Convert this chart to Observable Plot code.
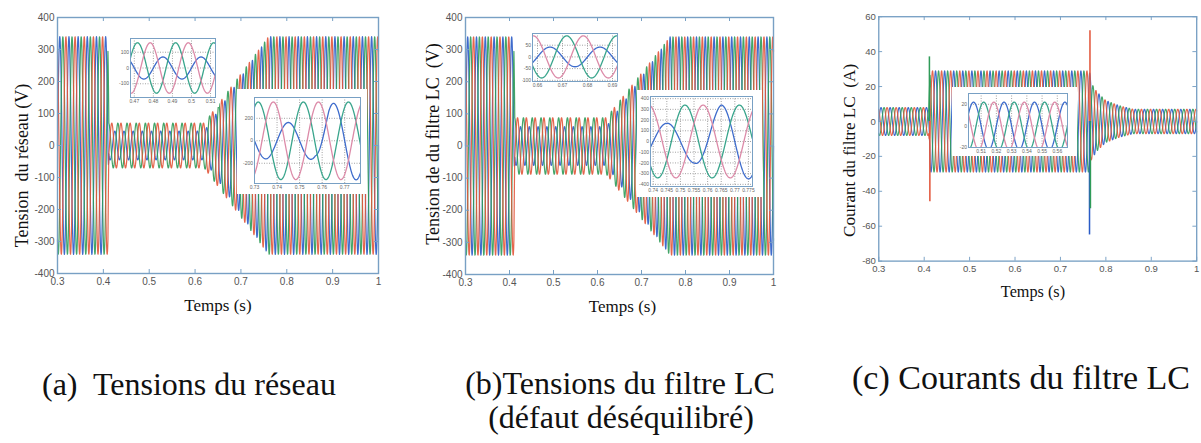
<!DOCTYPE html>
<html><head><meta charset="utf-8">
<script src="https://cdn.jsdelivr.net/npm/d3@7"></script>
<script src="https://cdn.jsdelivr.net/npm/@observablehq/plot@0.6"></script>
<style>
body{margin:0;background:#fff;overflow:hidden}
#root{position:relative;width:1201px;height:443px;overflow:hidden;background:#fff}
.abs{position:absolute;line-height:0}
.cap{position:absolute;font-family:"Liberation Serif","Times New Roman",serif;font-size:32px;color:#111;white-space:pre;line-height:1}
</style></head><body><div id="root"></div><script>
// ---------------- data ----------------
const freqHz = 50;                 // grid frequency (cycles seen in the zoom insets)
const crestTimeBlue = 0.745;       // a crest of phase A (blue) in the zooms
const phaseKeys = ["A", "B", "C"];
const phaseLagDeg = [0, 120, -120];
const mainColors = ["#2a5bc6", "#2f9b58", "#e2553a"];
const insetColors = ["#3e6ccc", "#39a58c", "#dc8aa8"];

const xTicksMain = [0.3, 0.4, 0.5, 0.6, 0.7, 0.8, 0.9, 1];
const yTicksVolt = [-400, -300, -200, -100, 0, 100, 200, 300, 400];
const yTicksAmp = [-80, -60, -40, -20, 0, 20, 40, 60];

// (a) grid voltages: envelope breakpoints (s, V) per phase
const aEnvTime  = [0.30, 0.410, 0.412, 0.620, 0.760, 1.00];
const aEnvBlue  = [340, 340, 45, 45, 340, 340];
const aEnvGreen = [340, 340, 70, 70, 340, 340];
const aEnvRed   = [340, 340, 70, 70, 340, 340];

// (b) LC filter voltages
const bEnvTime  = [0.30, 0.410, 0.412, 0.620, 0.765, 1.00];
const bEnvBlue  = [340, 340, 60, 60, 340, 340];
const bEnvGreen = [340, 340, 88, 88, 340, 340];
const bEnvRed   = [340, 340, 88, 88, 340, 340];

// (c) LC filter currents
const cEnvTime  = [0.30, 0.410, 0.413, 0.764, 0.768, 0.78, 0.80, 0.83, 0.86, 1.00];
const cEnvBlue  = [8, 8, 29, 29, 22, 17, 12, 9, 7, 7];
const cEnvGreen = [8, 8, 29, 29, 22, 17, 12, 9, 7, 7];
const cEnvRed   = [8, 8, 29, 29, 22, 17, 12, 9, 7, 7];
const cSpikeTime  = [0.4115, 0.4125, 0.7640, 0.7650, 0.7660];
const cSpikeFrom  = [0, 0, 0, 0, 0];
const cSpikeTo    = [37, -46, -65, 52, -50];
const cSpikePhase = [1, 2, 0, 2, 1];

// zoom insets
const a1Window = [0.468, 0.5126];
const a1XTicks = [0.47, 0.48, 0.49, 0.5, 0.51];
const a1YDomain = [-187, 187];
const a1YTicks = [-100, 0, 100];
const a1EnvTime = [0.468, 0.5126];
const a1EnvBlue = [70, 70], a1EnvGreen = [160, 160], a1EnvRed = [160, 160];

const a2Window = [0.73, 0.777];
const a2XTicks = [0.73, 0.74, 0.75, 0.76, 0.77];
const a2YDomain = [-380, 385];
const a2YTicks = [-200, 0, 200];
const a2EnvTime = [0.73, 0.757, 0.763, 0.777];
const a2EnvBlue = [160, 165, 330, 350], a2EnvGreen = [345, 345, 345, 345], a2EnvRed = [345, 345, 345, 345];

const b1Window = [0.658, 0.692];
const b1XTicks = [0.66, 0.67, 0.68, 0.69];
const b1YDomain = [-105, 100];
const b1YTicks = [-100, -50, 0, 50];
const b1EnvTime = [0.658, 0.692];
const b1EnvBlue = [42, 42], b1EnvGreen = [90, 90], b1EnvRed = [90, 90];

const b2Window = [0.739, 0.7765];
const b2XTicks = [0.74, 0.745, 0.75, 0.755, 0.76, 0.765, 0.77, 0.775];
const b2YDomain = [-420, 420];
const b2YTicks = [-400, -300, -200, -100, 0, 100, 200, 300, 400];
const b2EnvTime = [0.739, 0.745, 0.755, 0.765, 0.7765];
const b2EnvBlue = [170, 170, 200, 340, 350], b2EnvGreen = [340, 340, 340, 340, 340], b2EnvRed = [340, 340, 340, 340, 340];

const cZWindow = [0.5017, 0.5667];
const cZXTicks = [0.51, 0.52, 0.53, 0.54, 0.55, 0.56];
const cZYDomain = [-20, 30];
const cZYTicks = [-20, 0, 20];
const cZEnvTime = [0.5017, 0.5667];
const cZEnvBlue = [22, 22], cZEnvGreen = [22, 22], cZEnvRed = [22, 22];

// ---------------- helpers ----------------
const axisColor = "#78a0c4";
const tickColor = "#555";
const serif = "Liberation Serif, Times New Roman, serif";
const sans = "Liberation Sans, Arial, sans-serif";
const fmt = d => String(+d.toFixed(4));

function wave(times, envs, t0, t1, step) {
  const out = [];
  const n = Math.round((t1 - t0) / step);
  phaseKeys.forEach((k, i) => {
    const env = d3.scaleLinear(times, envs[i]).clamp(true);
    for (let j = 0; j <= n; j++) {
      const t = t0 + j * step;
      const v = env(t) * Math.cos(2 * Math.PI * freqHz * (t - crestTimeBlue) - phaseLagDeg[i] * Math.PI / 180);
      out.push({t, v, phase: k});
    }
  });
  return out;
}

function mainChart(o) {
  const fw = o.w - o.ml - o.mr, fh = o.h - o.mt - o.mb;
  const marks = [];
  phaseKeys.forEach((k, i) => marks.push(
    Plot.line(o.data.filter(d => d.phase === k), {x: "t", y: "v", stroke: mainColors[i], strokeWidth: 1.2, strokeOpacity: 0.9})));
  if (o.spikes) o.spikes.forEach(s => marks.push(
    Plot.ruleX([s], {x: "t", y1: "from", y2: "to", stroke: mainColors[s.p], strokeWidth: 1.6})));
  marks.push(
    Plot.frame({stroke: axisColor, strokeWidth: 1.4}),
    Plot.tickX(o.xTicks, {x: d => d, stroke: axisColor, insetTop: fh - 4}),
    Plot.tickX(o.xTicks, {x: d => d, stroke: axisColor, insetBottom: fh - 4}),
    Plot.tickY(o.yTicks, {y: d => d, stroke: axisColor, insetRight: fw - 4}),
    Plot.tickY(o.yTicks, {y: d => d, stroke: axisColor, insetLeft: fw - 4}),
    Plot.axisX(o.xTicks, {tickSize: 0, tickPadding: 4, color: tickColor, fontSize: 10, tickFormat: fmt, label: null}),
    Plot.axisY(o.yTicks, {tickSize: 0, tickPadding: 3, color: tickColor, fontSize: 10, tickFormat: fmt, label: null}),
    Plot.text([o.ylab], {text: d => d, frameAnchor: "left", rotate: -90, textAnchor: "middle", lineAnchor: "middle",
      dx: o.ylabDx, dy: o.ylabDy, fontSize: 18, fontFamily: serif, fill: "#111"}),
    Plot.text(["Temps (s)"], {text: d => d, frameAnchor: "bottom", textAnchor: "middle", lineAnchor: "middle",
      dx: o.xlabDx, dy: 32, fontSize: 17, fontFamily: serif, fill: "#111"})
  );
  return Plot.plot({
    width: o.w, height: o.h, marginLeft: o.ml, marginRight: o.mr, marginTop: o.mt, marginBottom: o.mb,
    x: {domain: [0.3, 1]}, y: {domain: o.yDomain},
    style: {fontFamily: sans, background: "transparent", overflow: "visible"},
    marks
  });
}

function insetChart(o) {
  const marks = [
    Plot.gridX(o.xTicks, {stroke: "#8c8c8c", strokeDasharray: "1,1.5", strokeOpacity: 0.8}),
    Plot.gridY(o.yTicks, {stroke: "#8c8c8c", strokeDasharray: "1,1.5", strokeOpacity: 0.8})
  ];
  phaseKeys.forEach((k, i) => marks.push(
    Plot.line(o.data.filter(d => d.phase === k), {x: "t", y: "v", stroke: insetColors[i], strokeWidth: 1.3, clip: true})));
  marks.push(
    Plot.frame({stroke: axisColor, strokeWidth: 1}),
    Plot.axisX(o.xTicks, {tickSize: 0, tickPadding: 1.5, color: "#666", fontSize: 5, tickFormat: fmt, label: null}),
    Plot.axisY(o.yTicks, {tickSize: 0, tickPadding: 1.5, color: "#666", fontSize: 5, tickFormat: fmt, label: null})
  );
  return Plot.plot({
    width: o.w, height: o.h, marginLeft: o.ml, marginRight: o.mr, marginTop: o.mt, marginBottom: o.mb,
    x: {domain: o.window}, y: {domain: o.yDomain},
    style: {fontFamily: sans, background: "white"},
    marks
  });
}

const root = document.getElementById("root");
function place(node, left, top) {
  const d = document.createElement("div");
  d.className = "abs"; d.style.left = left + "px"; d.style.top = top + "px";
  d.appendChild(node); root.appendChild(d);
}
function caption(text, left, top, center, size) {
  const d = document.createElement("div");
  d.className = "cap"; d.textContent = text; d.style.top = top + "px"; d.style.left = left + "px";
  if (center) d.style.transform = "translateX(-50%)";
  if (size) d.style.fontSize = size + "px";
  root.appendChild(d);
}

// ---------------- main panels ----------------
place(mainChart({
  data: wave(aEnvTime, [aEnvBlue, aEnvGreen, aEnvRed], 0.3, 1, 0.0005),
  yDomain: [-400, 400], xTicks: xTicksMain, yTicks: yTicksVolt,
  w: 400, h: 330, ml: 57, mr: 22, mt: 17, mb: 57,
  ylab: "Tension  du réseau (V)", ylabDx: -35, ylabDy: 20, xlabDx: 0
}), 0, 0);

place(mainChart({
  data: wave(bEnvTime, [bEnvBlue, bEnvGreen, bEnvRed], 0.3, 1, 0.0005),
  yDomain: [-400, 400], xTicks: xTicksMain, yTicks: yTicksVolt,
  w: 400, h: 330, ml: 65, mr: 27, mt: 17, mb: 56,
  ylab: "Tension de du filtre LC  (V)", ylabDx: -32, ylabDy: -2, xlabDx: 3
}), 400, 0);

place(mainChart({
  data: wave(cEnvTime, [cEnvBlue, cEnvGreen, cEnvRed], 0.3, 1, 0.0005),
  spikes: cSpikeTime.map((t, i) => ({t, from: cSpikeFrom[i], to: cSpikeTo[i], p: cSpikePhase[i]})),
  yDomain: [-80, 60], xTicks: xTicksMain, yTicks: yTicksAmp,
  w: 420, h: 330, ml: 82, mr: 5, mt: 17, mb: 57,
  ylab: "Courant du filtre LC  (A)", ylabDx: -31, ylabDy: 12, xlabDx: -5
}), 800, 0);

// ---------------- zoom insets ----------------
place(insetChart({data: wave(a1EnvTime, [a1EnvBlue, a1EnvGreen, a1EnvRed], a1Window[0], a1Window[1], 0.0002),
  window: a1Window, yDomain: a1YDomain, xTicks: a1XTicks, yTicks: a1YTicks,
  w: 102, h: 73, ml: 13, mr: 4, mt: 4, mb: 10}), 117, 34);
place(insetChart({data: wave(a2EnvTime, [a2EnvBlue, a2EnvGreen, a2EnvRed], a2Window[0], a2Window[1], 0.0002),
  window: a2Window, yDomain: a2YDomain, xTicks: a2XTicks, yTicks: a2YTicks,
  w: 130, h: 105, ml: 17, mr: 7, mt: 8, mb: 11}), 237, 89);
place(insetChart({data: wave(b1EnvTime, [b1EnvBlue, b1EnvGreen, b1EnvRed], b1Window[0], b1Window[1], 0.0002),
  window: b1Window, yDomain: b1YDomain, xTicks: b1XTicks, yTicks: b1YTicks,
  w: 99, h: 61, ml: 10, mr: 4, mt: 4, mb: 9}), 522, 29);
place(insetChart({data: wave(b2EnvTime, [b2EnvBlue, b2EnvGreen, b2EnvRed], b2Window[0], b2Window[1], 0.0002),
  window: b2Window, yDomain: b2YDomain, xTicks: b2XTicks, yTicks: b2YTicks,
  w: 125, h: 107, ml: 13, mr: 10, mt: 6, mb: 11}), 637, 90);
place(insetChart({data: wave(cZEnvTime, [cZEnvBlue, cZEnvGreen, cZEnvRed], cZWindow[0], cZWindow[1], 0.0002),
  window: cZWindow, yDomain: cZYDomain, xTicks: cZXTicks, yTicks: cZYTicks,
  w: 125, h: 69, ml: 16, mr: 10, mt: 6, mb: 9}), 952, 87);

// ---------------- captions ----------------
caption("(a)  Tensions du réseau", 42, 368);
caption("(b)Tensions du filtre LC", 620, 367, true);
caption("(défaut déséquilibré)", 621, 401, true);
caption("(c) Courants du filtre LC", 852, 361, false, 34);
</script></body></html>
